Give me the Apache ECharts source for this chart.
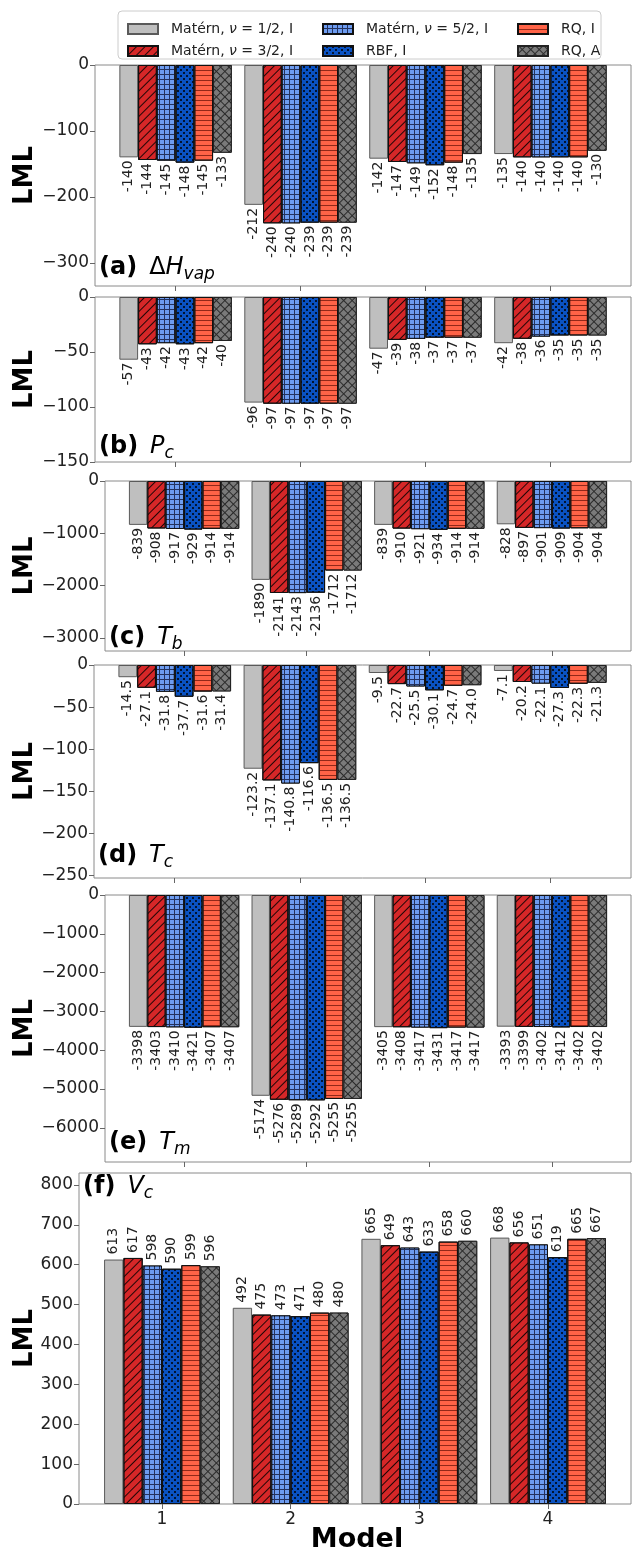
<!DOCTYPE html>
<html>
<head>
<meta charset="utf-8">
<script src="https://cdn.jsdelivr.net/npm/echarts@6/dist/echarts.min.js"></script>
<style>html,body{margin:0;padding:0;background:#fff;}#c{width:633px;height:1552px;}</style>
</head>
<body>
<div id="c"></div>
<script>
// ---------------- data ----------------
const models = [1, 2, 3, 4];
const seriesNames = ['Matérn, ν = 1/2, I', 'Matérn, ν = 3/2, I', 'Matérn, ν = 5/2, I', 'RBF, I', 'RQ, I', 'RQ, A'];
// rows = models 1..4, columns = series in seriesNames order
const hvap = [[-140, -144, -145, -148, -145, -133], [-212, -240, -240, -239, -239, -239], [-142, -147, -149, -152, -148, -135], [-135, -140, -140, -140, -140, -130]];
const pc = [[-57, -43, -42, -43, -42, -40], [-96, -97, -97, -97, -97, -97], [-47, -39, -38, -37, -37, -37], [-42, -38, -36, -35, -35, -35]];
const tb = [[-839, -908, -917, -929, -914, -914], [-1890, -2141, -2143, -2136, -1712, -1712], [-839, -910, -921, -934, -914, -914], [-828, -897, -901, -909, -904, -904]];
const tc = [[-14.5, -27.1, -31.8, -37.7, -31.6, -31.4], [-123.2, -137.1, -140.8, -116.6, -136.5, -136.5], [-9.5, -22.7, -25.5, -30.1, -24.7, -24.0], [-7.1, -20.2, -22.1, -27.3, -22.3, -21.3]];
const tm = [[-3398, -3403, -3410, -3421, -3407, -3407], [-5174, -5276, -5289, -5292, -5255, -5255], [-3405, -3408, -3417, -3431, -3417, -3417], [-3393, -3399, -3402, -3412, -3402, -3402]];
const vc = [[613, 617, 598, 590, 599, 596], [492, 475, 473, 471, 480, 480], [665, 649, 643, 633, 658, 660], [668, 656, 651, 619, 665, 667]];
const ticksA = [0, -100, -200, -300];
const ticksB = [0, -50, -100, -150];
const ticksC = [0, -1000, -2000, -3000];
const ticksD = [0, -50, -100, -150, -200, -250];
const ticksE = [0, -1000, -2000, -3000, -4000, -5000, -6000];
const ticksF = [0, 100, 200, 300, 400, 500, 600, 700, 800];
const panelTitles = [
  '{b|(a)}{m|Δ}{i|H}{s|vap}', '{b|(b)}{i|P}{s|c}', '{b|(c)}{i|T}{s|b}',
  '{b|(d)}{i|T}{s|c}', '{b|(e)}{i|T}{s|m}', '{b|(f)}{i|V}{s|c}'
];

// ---------------- layout ----------------
const FONT = 'DejaVu Sans';
const panels = [
  {data: hvap, ticks: ticksA, top: 65, height: 221, left: 95, min: -335, max: 0, dec: 0, title: [99, 268]},
  {data: pc, ticks: ticksB, top: 297, height: 165, left: 95, min: -150, max: 0, dec: 0, title: [99, 447]},
  {data: tb, ticks: ticksC, top: 481, height: 170, left: 105, min: -3250, max: 0, dec: 0, title: [109, 638]},
  {data: tc, ticks: ticksD, top: 665, height: 213, left: 94, min: -253, max: 0, dec: 1, title: [98, 856]},
  {data: tm, ticks: ticksE, top: 895, height: 267, left: 105, min: -6880, max: 0, dec: 0, title: [109, 1143]},
  {data: vc, ticks: ticksF, top: 1173, height: 331, left: 79, min: 0, max: 830, dec: 0, title: [83, 1187]}
];

const styles = [
  {color: '#bfbfbf', borderColor: '#5a5a5a', borderWidth: 1},
  {color: '#d62728', borderColor: '#111', borderWidth: 1,
   decal: {symbol: 'rect', color: 'rgba(0,0,0,0.85)', dashArrayX: [1, 0], dashArrayY: [1, 5], rotation: -Math.PI / 4}},
  {color: '#24325e', borderColor: '#111', borderWidth: 1,
   decal: {symbol: 'rect', color: '#6d9cf0', dashArrayX: [4, 1], dashArrayY: [4, 1], rotation: 0}},
  {color: '#0a52c2', borderColor: '#111', borderWidth: 1,
   decal: {symbol: 'circle', color: '#000', symbolSize: 1, dashArrayX: [[2, 4], [0, 3, 2, 1]], dashArrayY: [2, 1], rotation: 0}},
  {color: '#ff6347', borderColor: '#111', borderWidth: 1,
   decal: {symbol: 'rect', color: 'rgba(110,20,10,0.75)', dashArrayX: [1, 0], dashArrayY: [1, 4], rotation: 0}},
  {color: '#2a2a2a', borderColor: '#222', borderWidth: 1,
   decal: {symbol: 'rect', color: '#7a7a7a', dashArrayX: [5, 1], dashArrayY: [5, 1], rotation: Math.PI / 4}}
];

const grids = [], xAxes = [], yAxes = [], series = [], graphics = [];
panels.forEach((p, pi) => {
  grids.push({left: p.left, right: 2, top: p.top, height: p.height, show: true,
    borderColor: '#8a8a8a', borderWidth: 1, backgroundColor: '#fff', containLabel: false});
  xAxes.push({type: 'value', gridIndex: pi, min: 0.355, max: 4.645,
    axisLine: {show: false, onZero: false}, splitLine: {show: false},
    axisTick: {show: true, length: 5, customValues: models, lineStyle: {color: '#666'}},
    axisLabel: {show: pi === 5, customValues: models, fontFamily: FONT, fontSize: 17, color: '#222', margin: 7}});
  yAxes.push({type: 'value', gridIndex: pi, min: p.min, max: p.max,
    axisLine: {show: false, onZero: false}, splitLine: {show: false},
    axisTick: {show: true, length: 5, customValues: p.ticks, lineStyle: {color: '#666'}},
    axisLabel: {customValues: p.ticks, fontFamily: FONT, fontSize: 17, color: '#222', margin: 6,
      formatter: v => String(v).replace('-', '\u2212')}});
  const positive = p.min >= 0;
  seriesNames.forEach((name, si) => {
    series.push({
      type: 'bar', name: name, xAxisIndex: pi, yAxisIndex: pi,
      barGap: '0%', barCategoryGap: '10%',
      data: models.map((m, mi) => [m, p.data[mi][si]]),
      itemStyle: styles[si],
      label: {show: true, position: positive ? 'top' : 'bottom', rotate: 90, distance: positive ? 5 : 3,
        align: positive ? 'left' : 'right', verticalAlign: 'middle',
        fontFamily: FONT, fontSize: 14, color: '#222',
        formatter: prm => p.dec ? prm.value[1].toFixed(1) : String(prm.value[1])}
    });
  });
  graphics.push({type: 'text', x: 25, y: p.top + p.height / 2, rotation: Math.PI / 2,
    style: {text: 'LML', font: 'bold 26px "DejaVu Sans"', fill: '#000', textAlign: 'center', textVerticalAlign: 'middle'}});
  graphics.push({type: 'text', x: p.title[0], y: p.title[1], z: 10,
    style: {text: panelTitles[pi], textVerticalAlign: 'middle', fill: '#000',
      rich: {
        b: {fontFamily: FONT, fontWeight: 'bold', fontSize: 24, lineHeight: 30, padding: [0, 12, 0, 0]},
        m: {fontFamily: FONT, fontSize: 24, lineHeight: 30},
        i: {fontFamily: FONT, fontStyle: 'italic', fontSize: 24, lineHeight: 30},
        s: {fontFamily: FONT, fontStyle: 'italic', fontSize: 17, lineHeight: 17, verticalAlign: 'bottom'}
      }}});
});

graphics.push({type: 'text', x: 357, y: 1540,
  style: {text: 'Model', font: 'bold 27px "DejaVu Sans"', fill: '#000', textAlign: 'center', textVerticalAlign: 'middle'}});
graphics.push({type: 'rect', z: -1, shape: {x: 118, y: 11, width: 483, height: 48, r: 4},
  style: {fill: '#fff', stroke: '#cccccc', lineWidth: 1}});

const legendBase = {orient: 'vertical', icon: 'rect', itemWidth: 30, itemHeight: 10, itemGap: 6, top: 16,
  textStyle: {fontFamily: FONT, fontSize: 14, color: '#222', lineHeight: 16, padding: [0, 0, 0, 8],
    rich: {i: {fontFamily: FONT, fontStyle: 'italic', fontSize: 14, color: '#222'}}},
  formatter: n => n.replace('ν', '{i|ν}'), selectedMode: false, z: 20};
const legends = [
  Object.assign({}, legendBase, {left: 122, data: [seriesNames[0], seriesNames[1]]}),
  Object.assign({}, legendBase, {left: 317, data: [seriesNames[2], seriesNames[3]]}),
  Object.assign({}, legendBase, {left: 512, data: [seriesNames[4], seriesNames[5]]})
];

const chart = echarts.init(document.getElementById('c'), null, {renderer: 'canvas'});
chart.setOption({
  animation: false,
  backgroundColor: '#fff',
  grid: grids, xAxis: xAxes, yAxis: yAxes, series: series,
  legend: legends, graphic: graphics
});
</script>
</body>
</html>
